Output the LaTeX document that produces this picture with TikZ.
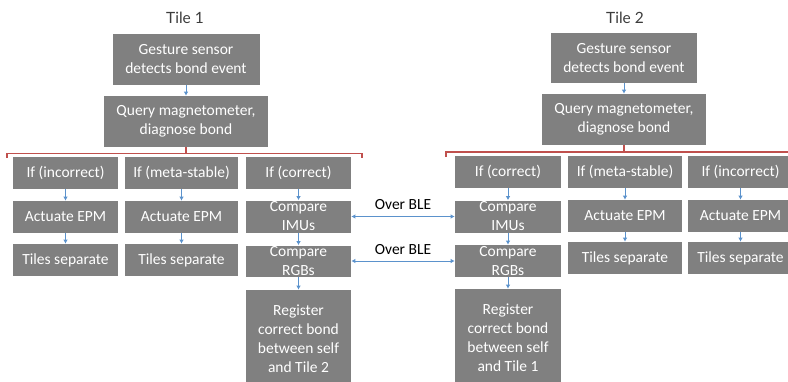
\documentclass[tikz,border=0pt]{standalone}
\usepackage{fontspec}
\setmainfont{Carlito}
\newfontfamily\titlefont{Lato}
\usepackage{tikz}
\usetikzlibrary{arrows,arrows.meta}

\definecolor{boxgray}{RGB}{128,128,128}
\definecolor{flowblue}{RGB}{91,146,204}
\definecolor{bracketred}{RGB}{192,80,77}
\definecolor{titlegray}{RGB}{60,60,60}

\begin{document}
\begin{tikzpicture}[> = {Latex[length=4pt,width=4.5pt]}, % arrow head style
	x=1pt,y=-1pt, % pixel grid, y downwards
	semithick, % line style
	box/.style={rectangle,fill=boxgray,text=white,inner sep=0pt,
		minimum width=105pt,minimum height=32pt,align=center,
		font=\fontsize{15.5}{19}\selectfont},
	boxtext/.style={text=white,inner sep=0pt,align=center,
		font=\fontsize{15.5}{19}\selectfont},
	tiletitle/.style={text=titlegray,font=\titlefont\fontsize{15.5}{18}\selectfont},
	bletext/.style={text=black,inner sep=0pt,font=\fontsize{15.5}{19}\selectfont},
	flow/.style={draw=flowblue,line width=0.9pt},
	bracket/.style={draw=bracketred,line width=1.1pt}]
	\useasboundingbox (0,0) rectangle (788,381);

	% Tile 1
	\node[tiletitle] (t1) at (185,18) {Tile 1};
	\node[box,minimum width=147pt,minimum height=51pt] (ges1) at (186,59.5) {Gesture sensor\\detects bond event};
	\node[box,minimum width=164pt,minimum height=51pt] (qry1) at (186,121.5) {Query magnetometer,\\diagnose bond};
	\node[box] (inc1) at (65.5,173) {If (incorrect)};
	\node[box,minimum width=113pt] (met1) at (181.5,173) {If (meta-stable)};
	\node[box] (cor1) at (298.5,173) {If (correct)};
	\node[box] (act1a) at (65.5,217) {Actuate EPM};
	\node[box,minimum width=113pt] (act1b) at (181.5,217) {Actuate EPM};
	\node[box] (sep1a) at (65.5,260) {Tiles separate};
	\node[box,minimum width=113pt] (sep1b) at (181.5,260) {Tiles separate};
	\node[box] (imu1) at (298.5,216.5) {};
	\node[boxtext] (imu1t) at (imu1) {Compare\\IMUs};
	\node[box,minimum height=31pt] (rgb1) at (298.5,261) {};
	\node[boxtext] (rgb1t) at (rgb1) {Compare\\RGBs};
	\node[box,minimum height=97pt] (reg1) at (298.5,338.5) {Register\\correct bond\\between self\\and Tile 2};

	% Tile 2
	\node[tiletitle] (t2) at (625,18) {Tile 2};
	\node[box,minimum width=146pt,minimum height=50pt] (ges2) at (624,58) {Gesture sensor\\detects bond event};
	\node[box,minimum width=164pt,minimum height=51pt] (qry2) at (624,119.5) {Query magnetometer,\\diagnose bond};
	\node[box,minimum width=106pt] (cor2) at (508,172) {If (correct)};
	\node[box,minimum width=114pt] (met2) at (625,172) {If (meta-stable)};
	\node[box] (inc2) at (740.5,172) {If (incorrect)};
	\node[box,minimum width=106pt] (imu2) at (508,216.5) {};
	\node[boxtext] (imu2t) at (imu2) {Compare\\IMUs};
	\node[box,minimum width=114pt] (act2a) at (625,216) {Actuate EPM};
	\node[box] (act2b) at (740.5,216) {Actuate EPM};
	\node[box,minimum width=114pt] (sep2a) at (625,258) {Tiles separate};
	\node[box] (sep2b) at (740.5,258) {Tiles separate};
	\node[box,minimum width=106pt] (rgb2) at (508,261) {};
	\node[boxtext] (rgb2t) at (rgb2) {Compare\\RGBs};
	\node[box,minimum width=106pt,minimum height=98pt] (reg2) at (508,338) {Register\\correct bond\\between self\\and Tile 1};

	% brackets
	\coordinate (b1l) at (7,158);
	\coordinate (b1r) at (362,158);
	\coordinate (b2l) at (446,157);
	\coordinate (b2r) at (800,157);
	\draw[bracket] (b1l) -- ++(0,-4.5) -| (b1r);
	\draw[bracket] (qry1.south) -- ++(0,6.5);
	\draw[bracket] (b2l) -- ++(0,-5) -| (b2r);
	\draw[bracket] (qry2.south) -- ++(0,6.5);

	% arrows
	\draw[->,flow] (ges1)--(qry1);
	\draw[->,flow] (inc1)--(act1a);
	\draw[->,flow] (act1a)--(sep1a);
	\draw[->,flow] (met1)--(act1b);
	\draw[->,flow] (act1b)--(sep1b);
	\draw[->,flow] (cor1)--(imu1);
	\draw[->,flow] (imu1)--(rgb1);
	\draw[->,flow] (rgb1)--(reg1);

	\draw[->,flow] (ges2)--(qry2);
	\draw[->,flow] (cor2)--(imu2);
	\draw[->,flow] (imu2)--(rgb2);
	\draw[->,flow] (rgb2)--(reg2);
	\draw[->,flow] (met2)--(act2a);
	\draw[->,flow] (act2a)--(sep2a);
	\draw[->,flow] (inc2)--(act2b);
	\draw[->,flow] (act2b)--(sep2b);

	% over BLE
	\node[bletext] (ble1) at (403,205) {Over BLE};
	\node[bletext] (ble2) at (403,250) {Over BLE};
	\draw[<->,flow] (imu1.east)--(imu2.west);
	\draw[<->,flow] (rgb1.east)--(rgb2.west);

\end{tikzpicture}
\end{document}
